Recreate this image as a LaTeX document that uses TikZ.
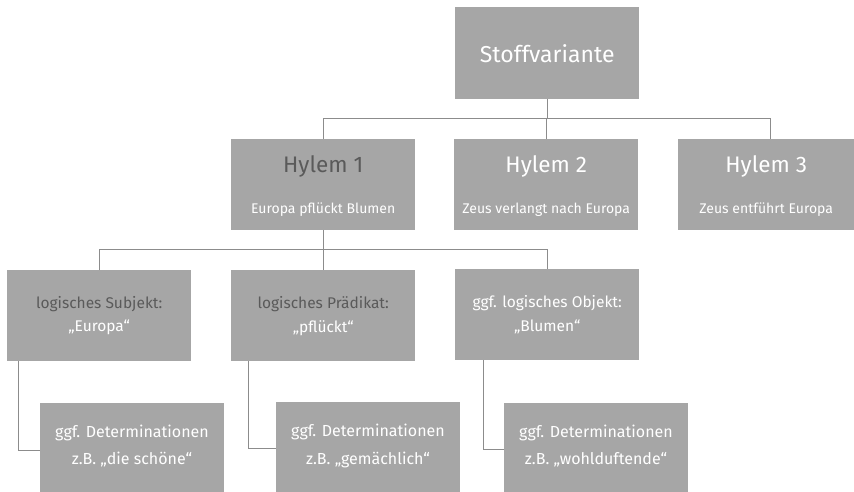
\documentclass[tikz,border=0pt]{standalone}
\usepackage{fontspec}
\setmainfont{Fira Sans}
\definecolor{boxgray}{HTML}{A6A6A6}
\definecolor{darktxt}{HTML}{5A5A5A}
\definecolor{linegray}{HTML}{8C8C8C}
\begin{document}
\begin{tikzpicture}[x=1pt,y=-1pt,
  box/.style={fill=boxgray,draw=none,inner sep=0pt,minimum width=184pt,anchor=north west},
  wtxt/.style={text=white,inner sep=0pt},
  dtxt/.style={text=darktxt,inner sep=0pt},
  conn/.style={draw=linegray,line width=0.9pt}]
\useasboundingbox (0,0) rectangle (854,492);
% boxes
\node[box,minimum height=92pt] (stoff) at (455,7) {};
\node[box,minimum height=91pt] (h1) at (231,139) {};
\node[box,minimum height=91pt] (h2) at (454,139) {};
\node[box,minimum height=91pt] (h3) at (678,139) {};
\node[box,minimum height=91pt] (subj) at (7,270) {};
\node[box,minimum height=91pt] (praed) at (231,270) {};
\node[box,minimum height=91pt] (obj) at (455,269) {};
\node[box,minimum height=94pt] (det1) at (40,403) {};
\node[box,minimum height=96pt] (det2) at (276,402) {};
\node[box,minimum height=94pt] (det3) at (504,403) {};
% texts
\node[wtxt,font=\fontsize{23}{26}\selectfont] (tstoff) at (stoff.center) {Stoffvariante};
\node[dtxt,font=\fontsize{22.5}{26}\selectfont] (th1) at ([yshift=18pt]h1.center) {Hylem 1};
\node[wtxt,font=\fontsize{14}{16}\selectfont] (sh1) at ([yshift=-25pt]h1.center) {Europa pflückt Blumen};
\node[wtxt,font=\fontsize{22.5}{26}\selectfont] (th2) at ([yshift=18pt]h2.center) {Hylem 2};
\node[wtxt,font=\fontsize{14}{16}\selectfont] (sh2) at ([yshift=-25pt]h2.center) {Zeus verlangt nach Europa};
\node[wtxt,font=\fontsize{22.5}{26}\selectfont] (th3) at ([xshift=-4pt,yshift=18pt]h3.center) {Hylem 3};
\node[wtxt,font=\fontsize{14}{16}\selectfont] (sh3) at ([xshift=-4pt,yshift=-25pt]h3.center) {Zeus entführt Europa};
\node[dtxt,font=\fontsize{15.5}{19}\selectfont] (tsubj) at ([yshift=12pt]subj.center) {logisches Subjekt:};
\node[wtxt,font=\fontsize{15.5}{19}\selectfont] (vsubj) at ([yshift=-12pt]subj.center) {„Europa“};
\node[dtxt,font=\fontsize{15.5}{19}\selectfont] (tpraed) at ([yshift=12pt]praed.center) {logisches Prädikat:};
\node[wtxt,font=\fontsize{15.5}{19}\selectfont] (vpraed) at ([yshift=-12pt]praed.center) {„pflückt“};
\node[wtxt,font=\fontsize{15.5}{19}\selectfont] (tobj) at ([yshift=12pt]obj.center) {ggf. logisches Objekt:};
\node[wtxt,font=\fontsize{15.5}{19}\selectfont] (vobj) at ([yshift=-12pt]obj.center) {„Blumen“};
\node[wtxt,font=\fontsize{16}{19}\selectfont] (tdet1) at (132,433) {ggf. Determinationen};
\node[wtxt,font=\fontsize{16}{19}\selectfont] (vdet1) at (132,460) {z.B. „die schöne“};
\node[wtxt,font=\fontsize{16}{19}\selectfont] (tdet2) at (368,432) {ggf. Determinationen};
\node[wtxt,font=\fontsize{16}{19}\selectfont] (vdet2) at (368,460) {z.B. „gemächlich“};
\node[wtxt,font=\fontsize{16}{19}\selectfont] (tdet3) at (596,433) {ggf. Determinationen};
\node[wtxt,font=\fontsize{16}{19}\selectfont] (vdet3) at (596,460) {z.B. „wohlduftende“};
% connectors
\coordinate (bus1) at (0,118);
\coordinate (bus2) at (0,249);
\coordinate (d1) at (18,361);
\coordinate (d2) at (248,361);
\coordinate (d3) at (483,360);
\draw[conn] (stoff.south) -- (stoff.south |- bus1);
\draw[conn] (h1.north) -- (h1.north |- bus1) -- (bus1 -| h3.north) -- (h3.north);
\draw[conn] (bus1 -| h2.north) -- (h2.north);
\draw[conn] (h1.south) -- (h1.south |- bus2);
\draw[conn] (subj.north) -- (subj.north |- bus2) -- (bus2 -| obj.north) -- (obj.north);
\draw[conn] (bus2 -| praed.north) -- (praed.north);
\draw[conn] (d1) |- (det1.west |- 0,450);
\draw[conn] (d2) |- (det2.west |- 0,448);
\draw[conn] (d3) |- (det3.west |- 0,449);
\end{tikzpicture}
\end{document}
